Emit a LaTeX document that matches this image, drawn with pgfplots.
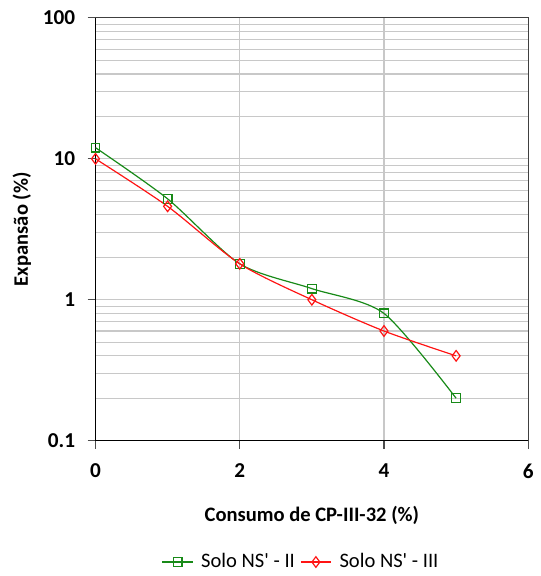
\documentclass[border=0pt]{standalone}
\usepackage{fontspec}
\setmainfont{Carlito}
\usepackage{pgfplots}
\pgfplotsset{compat=1.18}
\definecolor{sgreen}{RGB}{24,138,24}
\definecolor{sred}{RGB}{255,20,20}
\definecolor{gridc}{RGB}{200,200,200}
\begin{document}
\fontsize{15.5}{18}\selectfont
\begin{tikzpicture}
\begin{axis}[
  name=ax,
  at={(0,0)}, anchor=south west,
  scale only axis,
  width=326.25pt, height=318.75pt,
  ymode=log,
  xmin=0, xmax=6, ymin=0.1, ymax=100,
  xtick={0,2,4,6},
  ytick={0.1,1,10,100},
  yticklabels={0.1,1,10,100},
  xticklabels={0,2,4,6},
  /pgf/number format/assume math mode=true,
  tick label style={font=\fontsize{16}{18}\selectfont\bfseries},
  minor y tick num=8,
  ymajorgrids, yminorgrids, xmajorgrids,
  major grid style={gridc, line width=0.8pt},
  minor grid style={gridc, line width=0.8pt},
  tick align=outside,
  major tick length=6pt,
  minor tick length=0pt,
  xtick pos=bottom, ytick pos=left,
  tick style={black!70, line width=0.8pt},
  axis line style={black!75, line width=0.9pt},
  separate axis lines,
  x axis line style={black},
  y axis line style={black},
  xlabel={\bfseries Consumo de CP-III-32 (\%)},
  ylabel={\bfseries Expansão (\%)},
  xlabel style={at={(axis description cs:0.5,-0.176)}, anchor=center},
  ylabel style={at={(axis description cs:-0.170,0.5)}, anchor=center, rotate=0},
  label style={font=\fontsize{15.5}{18}\selectfont},
  xticklabel style={yshift=-6pt},
  yticklabel style={xshift=-4pt},
  legend style={at={(0.476,-0.287)}, anchor=center, draw=none, legend columns=2,
    font=\fontsize{15.5}{18}\selectfont, column sep=4pt,
    /tikz/every even column/.append style={column sep=2pt}},
  legend image code/.code={\draw[mark repeat=2,mark phase=2] plot coordinates {(0cm,0cm) (0.4cm,0cm) (0.8cm,0cm)};},
  legend cell align=left,
  clip=false,
]
\addplot[sgreen, line width=0.9pt, smooth, tension=0.45, mark=square, mark size=3.3pt, mark options={solid, line width=0.9pt}]
coordinates {(0,12) (1,5.2) (2,1.8) (3,1.2) (4,0.8) (5,0.2)};
\addlegendentry{Solo NS\textquotesingle\ - II}
\addplot[sred, line width=0.9pt, smooth, tension=0.45, mark=diamond, mark size=4pt, mark options={solid, line width=0.9pt}]
coordinates {(0,10) (1,4.6) (2,1.8) (3,1.0) (4,0.6) (5,0.4)};
\addlegendentry{Solo NS\textquotesingle\ - III}
\draw[black!75, line width=0.9pt] (rel axis cs:0,1) -- (rel axis cs:1,1) -- (rel axis cs:1,0);
\end{axis}
\path[use as bounding box] (-72pt,-99.75pt) rectangle (333pt,332.25pt);
\end{tikzpicture}
\end{document}
